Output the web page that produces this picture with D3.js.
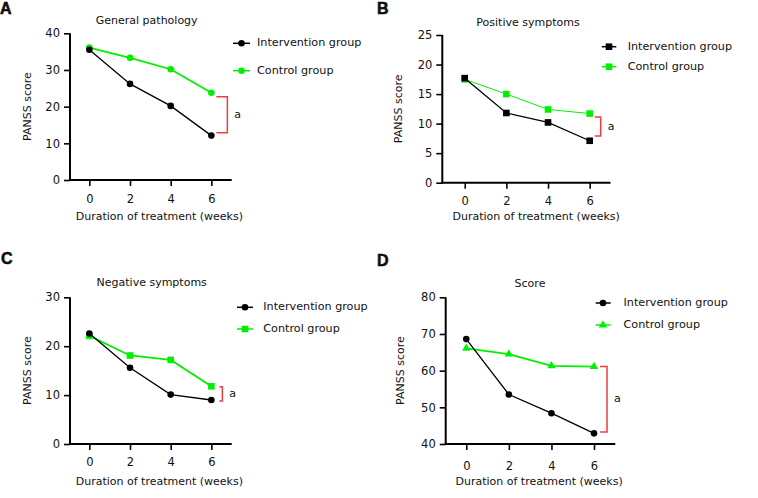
<!DOCTYPE html>
<html>
<head>
<meta charset="utf-8">
<script src="https://cdn.jsdelivr.net/npm/d3@7"></script>
<style>
  body { margin: 0; background: #fff; }
  svg { display: block; }
  text { font-family: "DejaVu Sans", Verdana, sans-serif; fill: #111; }
</style>
</head>
<body>
<div id="chart"></div>
<script>
// Data
const weeks = [0, 2, 4, 6];
const xTicks = [0, 2, 4, 6];

const generalIntervention = [35.5, 26.2, 20.2, 12.1];
const generalControl = [36.1, 33.3, 30.2, 23.8];

const positiveIntervention = [17.7, 11.8, 10.2, 7.1];
const positiveControl = [17.5, 15.0, 12.4, 11.7];

const negativeIntervention = [22.6, 15.6, 10.1, 9.0];
const negativeControl = [22.1, 18.1, 17.2, 11.8];

const totalIntervention = [68.6, 53.5, 48.4, 42.9];
const totalControl = [66.1, 64.5, 61.3, 61.1];

const seriesNames = ["Intervention group", "Control group"];
const panelTitles = ["General pathology", "Positive symptoms", "Negative symptoms", "Score"];
const panelLetters = ["A", "B", "C", "D"];
const yDomains = [[0, 40], [0, 25], [0, 30], [40, 80]];
const yTicks = [[0, 10, 20, 30, 40], [0, 5, 10, 15, 20, 25], [0, 10, 20, 30], [40, 50, 60, 70, 80]];
// significance bracket span (in score units)
const brackets = [[12.9, 22.7], [7.9, 11.1], [8.8, 11.7], [43.3, 61.1]];

// Config
const black = "#000";
const green = "#00f000";
const red = "#f03c3c";

// Layout of each panel (pixels)
const layout = [
  { x0: 69, x1: 231.7, yTop: 33.3, yBot: 180, yAxisX: 70,
    markers: ["circle", "circle"], greenW: 1.8,
    legX: [233, 250], legMark: 241.5, legText: 257, legY: [43.3, 70.7],
    br: [5, 16], aX: 23, tickY: 203, labY: 220, titleX: 146.7, titleY: 24, yLabX: 28 },
  { x0: 443.9, x1: 610.5, yTop: 35, yBot: 182.7, yAxisX: 442.3,
    markers: ["square", "square"], greenW: 1,
    legX: [601.7, 616.3], legMark: 609, legText: 627.7, legY: [46.7, 66.7],
    br: [5, 11], aX: 18, tickY: 205, labY: 220, titleX: 528, titleY: 25.5, yLabX: 399 },
  { x0: 69, x1: 231.7, yTop: 297.3, yBot: 444, yAxisX: 70,
    markers: ["circle", "square"], greenW: 1.8,
    legX: [237, 253], legMark: 245, legText: 263.3, legY: [307.3, 329],
    br: [8, 11], aX: 18, tickY: 466, labY: 484.7, titleX: 151.7, titleY: 286, yLabX: 28 },
  { x0: 445, x1: 615.3, yTop: 297.3, yBot: 444, yAxisX: 445.7,
    markers: ["circle", "triangle"], greenW: 1.8,
    legX: [595.7, 610.7], legMark: 603, legText: 623.5, legY: [303, 325],
    br: [6, 13], aX: 20, tickY: 469.7, labY: 485.3, titleX: 530, titleY: 287.3, yLabX: 400.7 }
];

const panelData = [
  [generalIntervention, generalControl],
  [positiveIntervention, positiveControl],
  [negativeIntervention, negativeControl],
  [totalIntervention, totalControl]
];

const letterPos = [[0, 13.5], [377, 13.5], [1, 264], [377, 266]];

const svg = d3.select("#chart")
  .append("svg")
  .attr("width", 758)
  .attr("height", 498);

// Marker helper
function drawMarker(g, type, cx, cy, color) {
  if (type === "circle") {
    g.append("circle").attr("cx", cx).attr("cy", cy).attr("r", 3.3).attr("fill", color);
  } else if (type === "square") {
    g.append("rect").attr("x", cx - 3.3).attr("y", cy - 3.3)
      .attr("width", 6.6).attr("height", 6.6).attr("fill", color);
  } else {
    g.append("path")
      .attr("d", d3.symbol().type(d3.symbolTriangle).size(30)())
      .attr("transform", `translate(${cx}, ${cy})`)
      .attr("fill", color);
  }
}

panelData.forEach((series, p) => {
  const L = layout[p];
  const g = svg.append("g");

  const x = d3.scaleLinear().domain([-1, 7]).range([L.x0, L.x1]);
  const y = d3.scaleLinear().domain(yDomains[p]).range([L.yBot, L.yTop]);

  // Panel letter
  svg.append("text")
    .attr("x", letterPos[p][0]).attr("y", letterPos[p][1])
    .style("font-family", "'Liberation Sans', Arial, sans-serif")
    .style("font-weight", "bold")
    .style("font-size", "16px")
    .style("stroke", "#000").style("stroke-width", 0.5)
    .text(panelLetters[p]);

  // Title
  g.append("text")
    .attr("x", L.titleX).attr("y", L.titleY)
    .attr("text-anchor", "middle")
    .style("font-size", "11px")
    .text(panelTitles[p]);

  // Y axis
  const yAxis = g.append("g")
    .attr("transform", `translate(${L.yAxisX}, 0)`)
    .call(d3.axisLeft(y).tickValues(yTicks[p]).tickSize(6).tickPadding(4));
  yAxis.select(".domain").attr("stroke-width", 2).attr("d", `M0,${L.yTop}V${L.yBot + 1}`);
  yAxis.selectAll(".tick line").attr("stroke-width", 1.6);
  yAxis.selectAll(".tick text")
    .style("font-family", "'DejaVu Sans', Verdana, sans-serif")
    .style("font-size", "11.5px").attr("fill", "#111");

  // X axis
  const xAxis = g.append("g")
    .attr("transform", `translate(0, ${L.yBot})`)
    .call(d3.axisBottom(x).tickValues(xTicks).tickSize(6).tickFormat(d3.format("d")));
  xAxis.select(".domain").attr("stroke-width", 2).attr("d", `M${L.yAxisX - 1},0H${L.x1}`);
  xAxis.selectAll(".tick line").attr("stroke-width", 1.6);
  xAxis.selectAll(".tick text")
    .attr("y", L.tickY - L.yBot).attr("dy", 0)
    .style("font-family", "'DejaVu Sans', Verdana, sans-serif")
    .style("font-size", "11.5px").attr("fill", "#111");

  // Axis labels
  g.append("text")
    .attr("transform", `translate(${L.yLabX}, ${(L.yTop + L.yBot) / 2}) rotate(-90)`)
    .attr("text-anchor", "middle")
    .attr("dominant-baseline", "middle")
    .style("font-size", "11px")
    .text("PANSS score");

  g.append("text")
    .attr("x", (L.x0 + L.x1) / 2 + 9).attr("y", L.labY)
    .attr("text-anchor", "middle")
    .style("font-size", "11px")
    .text("Duration of treatment (weeks)");

  // Lines (control first, intervention on top)
  const colors = [black, green];
  const widths = [1.3, L.greenW];
  [1, 0].forEach(s => {
    const line = d3.line().x((d, i) => x(weeks[i])).y(d => y(d));
    g.append("path")
      .datum(series[s])
      .attr("d", line)
      .attr("fill", "none")
      .attr("stroke", colors[s])
      .attr("stroke-width", widths[s]);
    series[s].forEach((v, i) => drawMarker(g, L.markers[s], x(weeks[i]), y(v), colors[s]));
  });

  // Significance bracket
  const bx0 = x(6) + L.br[0], bx1 = x(6) + L.br[1];
  const by0 = y(brackets[p][1]), by1 = y(brackets[p][0]);
  g.append("path")
    .attr("d", `M${bx0},${by0}H${bx1}V${by1}H${bx0}`)
    .attr("fill", "none")
    .attr("stroke", red)
    .attr("stroke-width", 1.5);
  g.append("text")
    .attr("x", x(6) + L.aX).attr("y", (by0 + by1) / 2)
    .attr("dominant-baseline", "middle")
    .style("font-size", "11px")
    .text("a");

  // Legend
  seriesNames.forEach((name, s) => {
    const ly = L.legY[s];
    g.append("line")
      .attr("x1", L.legX[0]).attr("x2", L.legX[1])
      .attr("y1", ly).attr("y2", ly)
      .attr("stroke", colors[s])
      .attr("stroke-width", 1.5);
    drawMarker(g, L.markers[s], L.legMark, ly, colors[s]);
    g.append("text")
      .attr("x", L.legText).attr("y", ly)
      .attr("dominant-baseline", "middle")
      .style("font-size", "11.2px")
      .text(name);
  });
});
</script>
</body>
</html>
